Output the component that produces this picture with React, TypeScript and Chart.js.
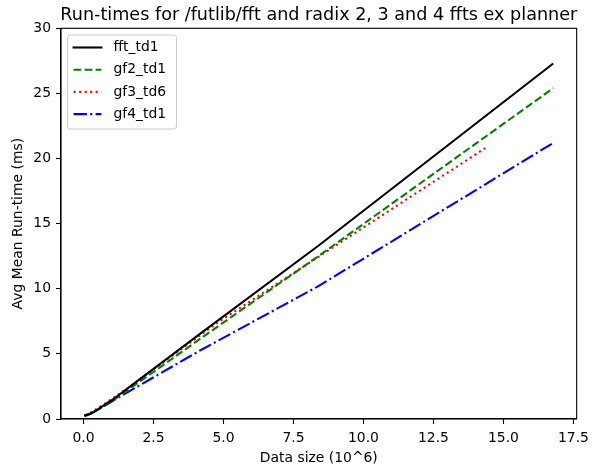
import React, { useEffect, useRef } from "react";
import { Chart, registerables } from "chart.js";

Chart.register(...registerables);

// Data sizes in millions (powers of 2 and powers of 3)
const sizesPow2 = [0.032768, 0.065536, 0.131072, 0.262144, 0.524288, 1.048576, 2.097152, 4.194304, 8.388608, 16.777216];
const sizesPow3 = [0.059049, 0.177147, 0.531441, 1.594323, 4.782969, 14.348907];

// Avg mean run-times (ms)
const fftTd1 = [0.25, 0.28, 0.32, 0.42, 0.75, 1.5, 3.2, 6.6, 13.3, 27.3];
const gf2Td1 = [0.2, 0.23, 0.28, 0.4, 0.72, 1.42, 3.0, 6.2, 12.5, 25.4];
const gf3Td6 = [0.3, 0.4, 0.85, 2.4, 7.4, 20.8];
const gf4Td1 = [0.28, 0.3, 0.33, 0.42, 0.72, 1.4, 2.7, 5.3, 10.2, 21.2];

const seriesLabels = ["fft_td1", "gf2_td1", "gf3_td6", "gf4_td1"];
const xTicks = [0, 2.5, 5, 7.5, 10, 12.5, 15, 17.5];
const yTicks = [0, 5, 10, 15, 20, 25, 30];
const chartTitle = "Run-times for /futlib/fft and radix 2, 3 and 4 ffts ex planner";

const FONT = "DejaVu Sans";

function pairs(xs: number[], ys: number[]) {
  return xs.map((x, i) => ({ x, y: ys[i] }));
}

const framePlugin = {
  id: "frame",
  afterDatasetsDraw(chart: any) {
    const { ctx, chartArea } = chart;
    ctx.save();
    ctx.strokeStyle = "#000";
    ctx.lineWidth = 1.1;
    ctx.strokeRect(chartArea.left, chartArea.top, chartArea.right - chartArea.left, chartArea.bottom - chartArea.top);
    ctx.restore();
  },
};

const axesTitlePlugin = {
  id: "axesTitle",
  afterDraw(chart: any) {
    const { ctx, chartArea } = chart;
    ctx.save();
    ctx.fillStyle = "#000";
    ctx.font = `17.6px "${FONT}"`;
    ctx.textAlign = "center";
    ctx.textBaseline = "alphabetic";
    ctx.fillText(chartTitle, (chartArea.left + chartArea.right) / 2, chartArea.top - 8.3);
    ctx.restore();
  },
};

const legendPlugin = {
  id: "mplLegend",
  afterDraw(chart: any) {
    const { ctx } = chart;
    const boxL = 67.5, boxT = 35, boxR = 176.5, boxB = 129, r = 2.8;
    ctx.save();
    ctx.beginPath();
    ctx.moveTo(boxL + r, boxT);
    ctx.lineTo(boxR - r, boxT);
    ctx.quadraticCurveTo(boxR, boxT, boxR, boxT + r);
    ctx.lineTo(boxR, boxB - r);
    ctx.quadraticCurveTo(boxR, boxB, boxR - r, boxB);
    ctx.lineTo(boxL + r, boxB);
    ctx.quadraticCurveTo(boxL, boxB, boxL, boxB - r);
    ctx.lineTo(boxL, boxT + r);
    ctx.quadraticCurveTo(boxL, boxT, boxL + r, boxT);
    ctx.closePath();
    ctx.fillStyle = "rgba(255,255,255,0.8)";
    ctx.fill();
    ctx.strokeStyle = "#cccccc";
    ctx.lineWidth = 1;
    ctx.stroke();

    chart.data.datasets.forEach((ds: any, i: number) => {
      const y = 47.5 + i * 22.2;
      ctx.beginPath();
      ctx.setLineDash(ds.borderDash || []);
      ctx.lineCap = ds.borderDash && ds.borderDash.length ? "butt" : "square";
      ctx.strokeStyle = ds.borderColor;
      ctx.lineWidth = ds.borderWidth;
      ctx.moveTo(73.6, y);
      ctx.lineTo(101.4, y);
      ctx.stroke();
      ctx.setLineDash([]);
      ctx.fillStyle = "#000";
      ctx.font = `13.9px "${FONT}"`;
      ctx.textBaseline = "middle";
      ctx.textAlign = "left";
      ctx.fillText(ds.label, 113.5, y);
    });
    ctx.restore();
  },
};

export default function App() {
  const canvasRef = useRef<HTMLCanvasElement | null>(null);

  useEffect(() => {
    if (!canvasRef.current) return;
    Chart.defaults.font.family = FONT;
    const xAll = sizesPow2.concat(sizesPow3);
    const dMin = Math.min(...xAll);
    const dMax = Math.max(...xAll);
    const margin = (dMax - dMin) * 0.05;

    const lw = 2.08;
    const chart = new Chart(canvasRef.current, {
      type: "line",
      data: {
        datasets: [
          { label: seriesLabels[0], data: pairs(sizesPow2, fftTd1), borderColor: "#000000", borderWidth: lw, borderDash: [], pointRadius: 0, tension: 0, fill: false },
          { label: seriesLabels[1], data: pairs(sizesPow2, gf2Td1), borderColor: "#008000", borderWidth: lw, borderDash: [7.7, 3.3], pointRadius: 0, tension: 0, fill: false },
          { label: seriesLabels[2], data: pairs(sizesPow3, gf3Td6), borderColor: "#ff0000", borderWidth: lw, borderDash: [2.08, 3.43], pointRadius: 0, tension: 0, fill: false },
          { label: seriesLabels[3], data: pairs(sizesPow2, gf4Td1), borderColor: "#0000ff", borderWidth: lw, borderDash: [13.3, 3.3, 2.08, 3.3], pointRadius: 0, tension: 0, fill: false },
        ] as any,
      },
      options: {
        animation: false,
        responsive: false,
        devicePixelRatio: 1,
        layout: { padding: { left: 0, right: 12, top: 28.3, bottom: 0 } },
        plugins: {
          legend: { display: false },
          tooltip: { enabled: false },
          title: { display: false },
        },
        scales: {
          x: {
            type: "linear",
            min: dMin - margin,
            max: dMax + margin,
            afterBuildTicks: (s: any) => {
              s.ticks = xTicks.map((v) => ({ value: v }));
            },
            afterFit: (s: any) => {
              s.height = 49;
            },
            ticks: {
              color: "#000",
              font: { size: 13.9, family: FONT },
              padding: 6,
              maxRotation: 0,
              autoSkip: false,
              callback: (v: any) => Number(v).toFixed(1),
            },
            grid: { drawOnChartArea: false, drawTicks: true, tickLength: 5, tickColor: "#000", tickWidth: 1.1 },
            border: { display: true, color: "#000", width: 1.1 },
            title: {
              display: true,
              text: "Data size (10^6)",
              color: "#000",
              font: { size: 13.9, family: FONT },
              padding: { top: 0, bottom: 1.7 },
            },
          },
          y: {
            type: "linear",
            min: 0,
            max: 30,
            afterBuildTicks: (s: any) => {
              s.ticks = yTicks.map((v) => ({ value: v }));
            },
            afterFit: (s: any) => {
              s.width = 61;
            },
            ticks: {
              color: "#000",
              font: { size: 13.9, family: FONT },
              padding: 5,
              autoSkip: false,
              callback: (v: any) => String(v),
            },
            grid: { drawOnChartArea: false, drawTicks: true, tickLength: 5, tickColor: "#000", tickWidth: 1.1 },
            border: { display: true, color: "#000", width: 1.1 },
            title: {
              display: true,
              text: "Avg Mean Run-time (ms)",
              color: "#000",
              font: { size: 13.9, family: FONT },
              padding: { top: 10.3, bottom: 0 },
            },
          },
        },
      },
      plugins: [framePlugin, axesTitlePlugin, legendPlugin],
    });
    return () => chart.destroy();
  }, []);

  return (
    <div style={{ position: "absolute", left: 0, top: 0, width: 595, height: 468, background: "#fff" }}>
      <canvas ref={canvasRef} width={595} height={468} style={{ width: 595, height: 468, display: "block" }} />
    </div>
  );
}
